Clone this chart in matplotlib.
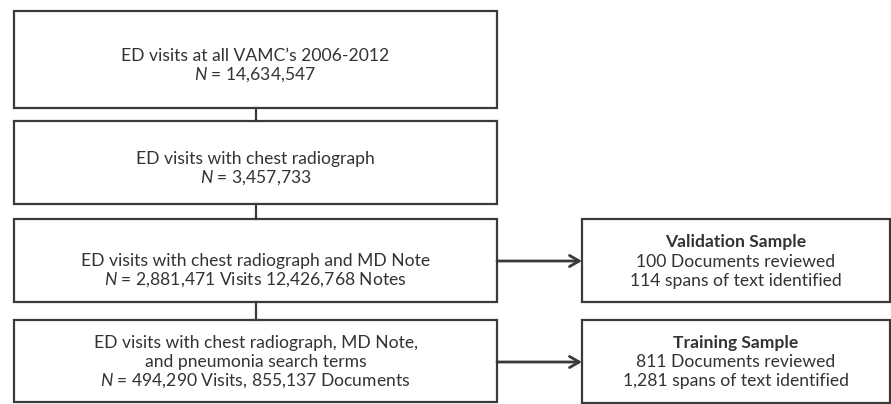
import matplotlib.pyplot as plt
from matplotlib.patches import Rectangle

plt.rcParams["font.family"] = ["Lato", "DejaVu Sans"]
plt.rcParams["mathtext.fontset"] = "custom"
plt.rcParams["mathtext.it"] = "Lato:italic"
plt.rcParams["mathtext.rm"] = "Lato"

# Texte der Kästen (links: Hauptfluss, rechts: Stichproben)
main_lines = [
    ["ED visits at all VAMC\u2019s 2006-2012", "$N$ = 14,634,547"],
    ["ED visits with chest radiograph", "$N$ = 3,457,733"],
    ["ED visits with chest radiograph and MD Note",
     "$N$ = 2,881,471 Visits 12,426,768 Notes"],
    ["ED visits with chest radiograph, MD Note,",
     "and pneumonia search terms",
     "$N$ = 494,290 Visits, 855,137 Documents"],
]
side_titles = ["Validation Sample", "Training Sample"]
side_lines = [
    ["100 Documents reviewed", "114 spans of text identified"],
    ["811 Documents reviewed", "1,281 spans of text identified"],
]

# Layout in Pixeln
main_x = (14, 497)
main_y = [(11, 108), (121, 204), (219, 302), (320, 402)]
main_text_y = [[56, 75], [159, 178], [261, 280], [343, 362, 381]]
side_x = (582, 890)
side_y = [(219, 302), (320, 403)]
side_text_y = [[242, 262, 281], [343, 362, 381]]

edge = "#3a3a3a"
txt = "#333333"
fs = 12.6

fig = plt.figure(figsize=(8.91, 4.04), dpi=100)
ax = fig.add_axes([0, 0, 1, 1])
ax.set_xlim(0, 891)
ax.set_ylim(404, 0)
ax.axis("off")

cx = (main_x[0] + main_x[1]) / 2
for (y0, y1), lines, ys in zip(main_y, main_lines, main_text_y):
    ax.add_patch(Rectangle((main_x[0], y0), main_x[1] - main_x[0], y1 - y0,
                           fill=False, ec=edge, lw=1.6))
    for s, y in zip(lines, ys):
        ax.text(cx, y, s, ha="center", va="center", fontsize=fs, color=txt)

# Verbindungslinien
for i in range(len(main_y) - 1):
    ax.plot([cx, cx], [main_y[i][1], main_y[i + 1][0]], color=edge, lw=1.6)

sx = (side_x[0] + side_x[1]) / 2
for (y0, y1), title, lines, ys in zip(side_y, side_titles, side_lines, side_text_y):
    ax.add_patch(Rectangle((side_x[0], y0), side_x[1] - side_x[0], y1 - y0,
                           fill=False, ec=edge, lw=1.6, clip_on=False))
    ax.text(sx, ys[0], title, ha="center", va="center", fontsize=fs,
            color=txt, fontweight="bold")
    for s, y in zip(lines, ys[1:]):
        ax.text(sx, y, s, ha="center", va="center", fontsize=fs, color=txt)

# Pfeile
for y in [261, 362]:
    ax.annotate("", xy=(side_x[0], y), xytext=(main_x[1], y),
                arrowprops=dict(arrowstyle="->,head_length=0.7,head_width=0.4",
                                color=edge, lw=2.0, shrinkA=0, shrinkB=0))

plt.savefig("out.png", dpi=100)
